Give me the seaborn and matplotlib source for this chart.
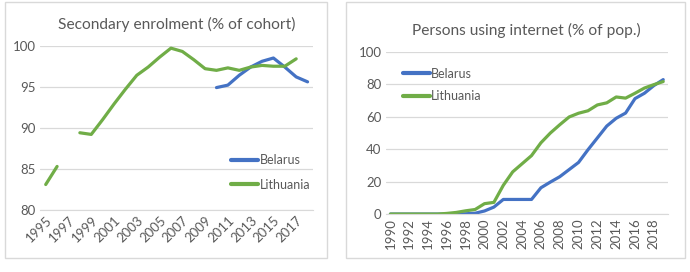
import numpy as np
import pandas as pd
import matplotlib
matplotlib.use('Agg')
import matplotlib.pyplot as plt
from matplotlib.patches import Rectangle
import seaborn as sns

# --- data ---
years_enrol = list(range(1995, 2019))
enrol_belarus = [np.nan] * 15 + [94.9, 95.2, 96.4, 97.4, 98.1, 98.5, 97.4, 96.2, 95.6]
enrol_lithuania = [83.1, 85.3, np.nan, 89.4, 89.2, 91.0, 92.9, 94.7, 96.4, 97.4, 98.6, 99.7,
                   99.3, 98.3, 97.2, 97.0, 97.3, 97.0, 97.4, 97.6, 97.5, 97.5, 98.4, np.nan]

years_net = list(range(1990, 2020))
net_belarus = [0, 0, 0, 0, 0, 0, 0, 0, 0.2, 0.5, 1.9, 4.3, 9.0, 9.0, 9.0, 9.0, 16.2, 19.7,
               23.0, 27.4, 31.8, 39.6, 46.9, 54.2, 59.0, 62.2, 71.1, 74.4, 79.1, 82.8]
net_lithuania = [0, 0, 0, 0, 0, 0, 0.4, 1.0, 2.0, 2.8, 6.4, 7.2, 17.7, 26.0, 31.0, 36.0, 43.9, 49.9,
                 55.0, 59.8, 62.1, 63.6, 67.2, 68.5, 72.1, 71.4, 74.4, 77.6, 79.7, 81.6]

countries = ["Belarus", "Lithuania"]
colors = {"Belarus": "#4472C4", "Lithuania": "#70AD47"}


def long_frame(years, series):
    parts = []
    for name, vals in series.items():
        d = pd.DataFrame({"year": years, "value": vals, "country": name})
        # split on gaps so the line breaks where there is no data
        d["seg"] = d["value"].isna().cumsum()
        parts.append(d.dropna())
    return pd.concat(parts, ignore_index=True)


enrol = long_frame(years_enrol, {"Belarus": enrol_belarus, "Lithuania": enrol_lithuania})
net = long_frame(years_net, {"Belarus": net_belarus, "Lithuania": net_lithuania})

sns.set_style("white")
plt.rcParams['font.family'] = ['Lato', 'DejaVu Sans']
grey = "#595959"

fig = plt.figure(figsize=(6.9, 2.72), dpi=100)
ax1 = fig.add_axes([0.058, 0.228, 0.396, 0.604])
ax2 = fig.add_axes([0.559, 0.213, 0.409, 0.597])

# panel frames
for x0, w in [(5, 322), (346, 339)]:
    fig.patches.append(Rectangle((x0 / 690, 1 - 258 / 272), w / 690, 256 / 272,
                                 transform=fig.transFigure, fill=False,
                                 edgecolor="#d9d9d9", linewidth=1))

for ax, df, years, title in [(ax1, enrol, years_enrol, "Secondary enrolment (% of cohort)"),
                             (ax2, net, years_net, "Persons using internet (% of pop.)")]:
    sns.lineplot(data=df, x="year", y="value", hue="country", units="seg",
                 estimator=None, palette=colors, hue_order=countries,
                 linewidth=2.3, ax=ax)
    ax.set_xlim(years[0] - 0.5, years[-1] + 0.5)
    ax.set_xticks(years[::2])
    ax.set_xlabel("")
    ax.set_ylabel("")
    ax.set_title(title, color=grey, fontsize=11.2, pad=12)
    ax.grid(axis="y", color="#d9d9d9", linewidth=0.9)
    ax.set_axisbelow(True)
    for s in ["top", "right", "left"]:
        ax.spines[s].set_visible(False)
    ax.spines["bottom"].set_color("#d9d9d9")
    ax.tick_params(axis="both", colors=grey, labelsize=9.5, length=0, pad=3)

ax1.set_ylim(80, 100)
ax1.set_yticks([80, 85, 90, 95, 100])
plt.setp(ax1.get_xticklabels(), rotation=45, ha="right", rotation_mode="anchor")

ax2.set_ylim(0, 100)
ax2.set_yticks([0, 20, 40, 60, 80, 100])
plt.setp(ax2.get_xticklabels(), rotation=90)

ax1.legend(frameon=False, loc="lower right", bbox_to_anchor=(1.03, 0.05),
           labelcolor=grey, fontsize=9, handlelength=2.2, handletextpad=0.1,
           labelspacing=1.0)
ax2.legend(frameon=False, loc="upper left", bbox_to_anchor=(0.02, 0.97),
           labelcolor=grey, fontsize=9, handlelength=2.2, handletextpad=0.1,
           labelspacing=0.85)
for lg in [ax1.get_legend(), ax2.get_legend()]:
    for h in lg.legend_handles:
        h.set_linewidth(3)

fig.savefig("out.png", dpi=100)
